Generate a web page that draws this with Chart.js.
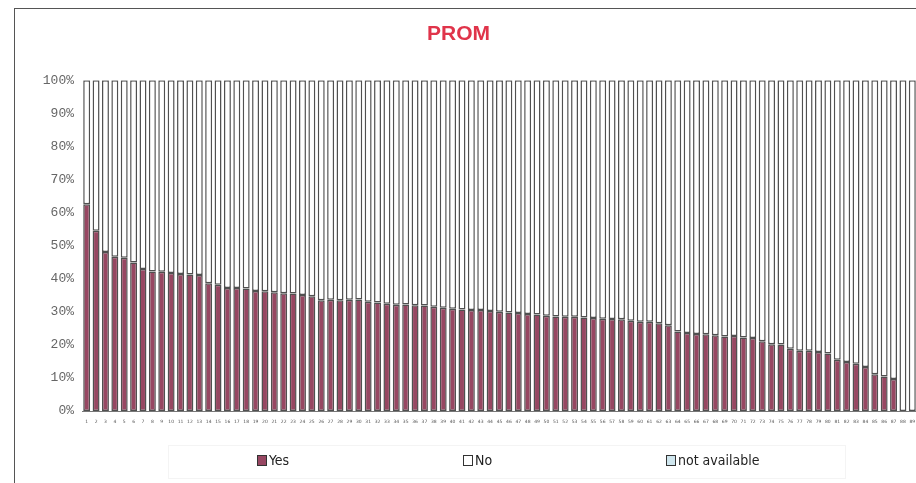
<!DOCTYPE html>
<html>
<head>
<meta charset="utf-8">
<script src="https://cdn.jsdelivr.net/npm/chart.js@4/dist/chart.umd.min.js"></script>
<style>
  html, body { margin:0; padding:0; background:#fff; width:916px; height:483px; overflow:hidden; }
  #frame { position:absolute; left:14px; top:8px; width:940px; height:500px; border-left:1.5px solid #555; border-top:1.5px solid #555; }
  #wrap { position:absolute; left:0; top:0; width:948px; height:483px; }
  #legendBox { position:absolute; left:168px; top:445px; width:676px; height:32px; border:1px solid #f4f4f4; }
  .li { position:absolute; top:452px; font-family:"DejaVu Sans Condensed","DejaVu Sans",sans-serif; font-size:14px; color:#222; line-height:16px; }
  .sw { display:inline-block; width:8px; height:9px; border:1px solid #333; vertical-align:-1px; margin-right:2px; }
</style>
</head>
<body>
<div id="frame"></div>
<div id="wrap"><canvas id="c" width="948" height="483"></canvas></div>
<div id="legendBox"></div>
<div id="legend"></div>
<script>
const categories = ['1','2','3','4','5','6','7','8','9','10','11','12','13','14','15','16','17','18','19','20','21','22','23','24','25','26','27','28','29','30','31','32','33','34','35','36','37','38','39','40','41','42','43','44','45','46','47','48','49','50','51','52','53','54','55','56','57','58','59','60','61','62','63','64','65','66','67','68','69','70','71','72','73','74','75','76','77','78','79','80','81','82','83','84','85','86','87','88','89'];
const yesValues = [62.5,54.5,48.1,46.6,46.3,44.9,42.9,42.2,42.1,41.7,41.4,41.3,41.1,38.6,38.2,37.2,37.2,37.0,36.3,36.2,35.9,35.6,35.5,35.1,34.7,33.5,33.6,33.5,33.6,33.7,33.0,32.8,32.4,32.1,32.2,32.0,31.9,31.5,31.2,30.9,30.7,30.5,30.5,30.2,30.0,29.8,29.6,29.3,29.2,28.8,28.6,28.5,28.5,28.3,28.1,27.9,27.8,27.7,27.3,27.0,27.0,26.5,25.9,24.0,23.6,23.3,23.2,22.9,22.5,22.7,22.2,22.1,21.1,20.2,20.1,18.8,18.2,18.2,17.8,17.4,15.5,14.8,14.3,13.3,11.1,10.4,9.7,0,0];
const noValues = [37.5,45.5,51.9,53.4,53.7,55.1,57.1,57.8,57.9,58.3,58.6,58.7,58.9,61.4,61.8,62.8,62.8,63.0,63.7,63.8,64.1,64.4,64.5,64.9,65.3,66.5,66.4,66.5,66.4,66.3,67.0,67.2,67.6,67.9,67.8,68.0,68.1,68.5,68.8,69.1,69.3,69.5,69.5,69.8,70.0,70.2,70.4,70.7,70.8,71.2,71.4,71.5,71.5,71.7,71.9,72.1,72.2,72.3,72.7,73.0,73.0,73.5,74.1,76.0,76.4,76.7,76.8,77.1,77.5,77.3,77.8,77.9,78.9,79.8,79.9,81.2,81.8,81.8,82.2,82.6,84.5,85.2,85.7,86.7,88.9,89.6,90.3,100,100];
const naValues = [0,0,0,0,0,0,0,0,0,0,0,0,0,0,0,0,0,0,0,0,0,0,0,0,0,0,0,0,0,0,0,0,0,0,0,0,0,0,0,0,0,0,0,0,0,0,0,0,0,0,0,0,0,0,0,0,0,0,0,0,0,0,0,0,0,0,0,0,0,0,0,0,0,0,0,0,0,0,0,0,0,0,0,0,0,0,0,0,0];
const yTickLabels = ['0%','10%','20%','30%','40%','50%','60%','70%','80%','90%','100%'];
const seriesNames = ['Yes','No','not available'];
const seriesColors = ['#974762','#ffffff','#cfe6ee'];
const chartTitle = 'PROM';

const bw = (c) => (c.raw === 0 ? 0 : 1.5);

const ctx = document.getElementById('c').getContext('2d');
new Chart(ctx, {
  type: 'bar',
  data: {
    labels: categories,
    datasets: [
      { label: seriesNames[0], data: yesValues, backgroundColor: seriesColors[0], borderColor: '#505050', borderWidth: bw, borderSkipped: false },
      { label: seriesNames[1], data: noValues, backgroundColor: seriesColors[1], borderColor: '#505050', borderWidth: bw, borderSkipped: false },
      { label: seriesNames[2], data: naValues, backgroundColor: seriesColors[2], borderColor: '#505050', borderWidth: 0, borderSkipped: false }
    ]
  },
  options: {
    responsive: false,
    animation: false,
    layout: { padding: { left: 0, right: 31, top: 0, bottom: 52 } },
    datasets: { bar: { categoryPercentage: 1.0, barPercentage: 0.74 } },
    plugins: {
      legend: { display: false },
      tooltip: { enabled: false },
      title: {
        display: true, text: chartTitle, color: '#e0344a',
        font: { family: '"Liberation Sans", Arial, sans-serif', size: 21, weight: 'bold' },
        padding: { top: 22, bottom: 33 }, lineHeight: 1.2
      }
    },
    scales: {
      x: {
        stacked: true,
        grid: { display: false, drawTicks: false },
        border: { display: true, color: '#777', width: 1 },
        ticks: { autoSkip: false, maxRotation: 0, minRotation: 0, padding: 8, color: '#555', font: { family: '"DejaVu Sans", sans-serif', size: 4.5 } },
        afterFit: (s) => { s.height = 20; }
      },
      y: {
        stacked: true, min: 0, max: 100,
        grid: { display: false, drawTicks: false },
        border: { display: false },
        ticks: { stepSize: 10, padding: 8, color: '#666', font: { family: '"Liberation Mono", monospace', size: 13 },
          callback: (v) => yTickLabels[Math.round(v / 10)] },
        afterFit: (s) => { s.width = 82; }
      }
    }
  }
});

const legendItems = [
  { x: 257, name: seriesNames[0], color: seriesColors[0] },
  { x: 463, name: seriesNames[1], color: seriesColors[1] },
  { x: 666, name: seriesNames[2], color: seriesColors[2] }
];
const lg = document.getElementById('legend');
legendItems.forEach(it => {
  const d = document.createElement('div');
  d.className = 'li';
  d.style.left = it.x + 'px';
  const sw = document.createElement('span');
  sw.className = 'sw';
  sw.style.background = it.color;
  d.appendChild(sw);
  d.appendChild(document.createTextNode(it.name));
  lg.appendChild(d);
});
</script>
</body>
</html>
